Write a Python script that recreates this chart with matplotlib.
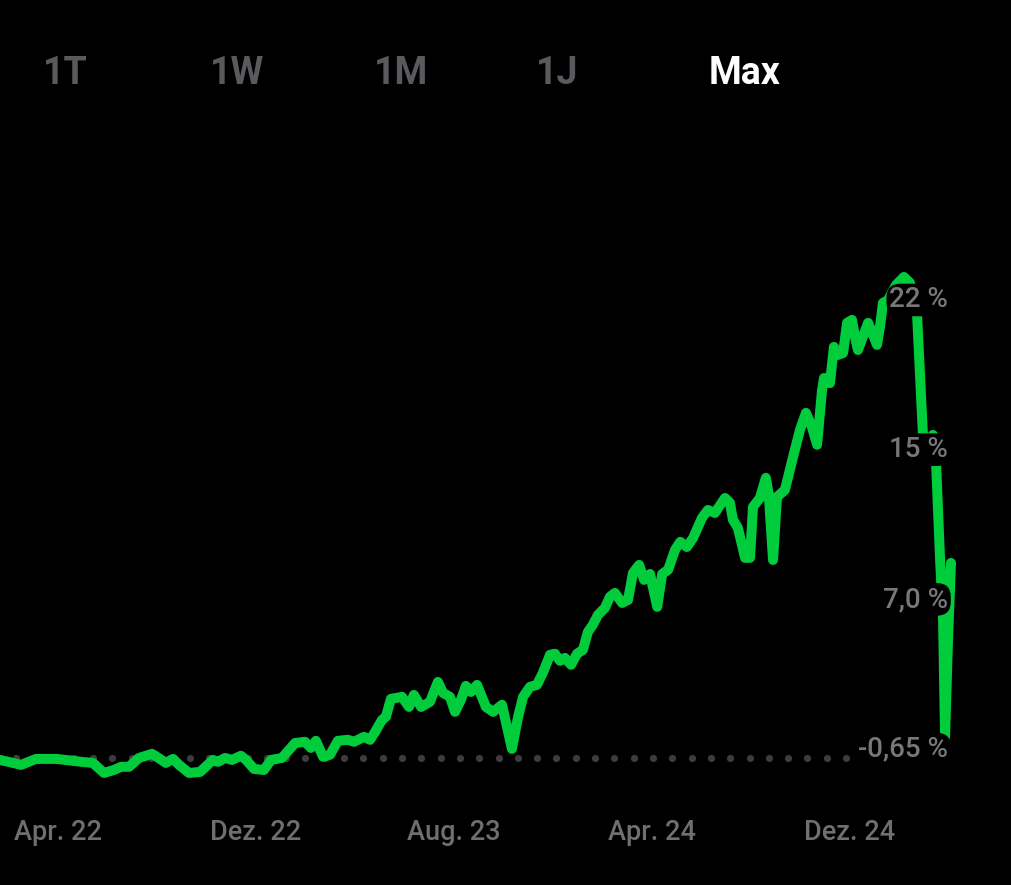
import matplotlib
matplotlib.use("Agg")
import numpy as np
import matplotlib.pyplot as plt
from matplotlib.transforms import blended_transform_factory

# x = months since Jan 2022, y = performance in %
months = [0.66, 1.51, 2.11, 2.96, 3.97, 4.41, 4.86, 5.26, 5.55, 5.87,
          6.27, 6.80, 7.00, 7.36, 7.65, 7.89, 8.29, 8.74, 9.26, 9.46,
          9.75, 10.03, 10.39, 10.60, 10.92, 11.32, 11.61, 12.05, 12.58, 12.98,
          13.22, 13.42, 13.71, 13.99, 14.31, 14.72, 14.96, 15.36, 15.61, 15.81,
          16.09, 16.25, 16.45, 16.90, 17.18, 17.38, 17.67, 18.03, 18.35, 18.56,
          18.84, 19.04, 19.28, 19.48, 19.69, 19.93, 20.29, 20.58, 20.94, 21.14,
          21.34, 21.59, 21.79, 22.07, 22.35, 22.59, 22.88, 23.08, 23.28, 23.48,
          23.73, 23.97, 24.21, 24.41, 24.61, 24.82, 25.10, 25.30, 25.50, 25.79,
          26.03, 26.23, 26.48, 26.68, 26.92, 27.21, 27.41, 27.65, 27.93, 28.14,
          28.41, 28.66, 29.02, 29.26, 29.54, 29.95, 30.15, 30.27, 30.47, 30.76,
          30.96, 31.08, 31.36, 31.60, 31.72, 31.89, 32.05, 32.37, 32.70, 32.98,
          33.22, 33.46, 33.67, 33.87, 33.95, 34.19, 34.35, 34.51, 34.72, 34.88,
          35.08, 35.20, 35.32, 35.52, 35.73, 35.93, 36.09, 36.21, 36.33, 36.54,
          36.86, 37.18, 37.42, 37.71, 37.95, 38.15, 38.35, 38.48, 38.64, 38.76,
          38.84, 38.96, 39.08]
perf = [-1.20, -1.45, -1.15, -1.15, -1.30, -1.35, -1.86, -1.71, -1.55, -1.55,
        -1.10, -0.89, -1.05, -1.35, -1.15, -1.45, -1.86, -1.81, -1.20, -1.30,
        -1.10, -1.20, -0.99, -1.20, -1.66, -1.71, -1.20, -1.10, -0.34, -0.28,
        -0.59, -0.23, -1.04, -0.94, -0.23, -0.18, -0.28, -0.03, -0.18, 0.22,
        0.83, 0.99, 1.90, 2.00, 1.49, 2.10, 1.49, 1.75, 2.76, 2.20,
        2.00, 1.24, 1.85, 2.56, 2.25, 2.61, 1.49, 1.24, 1.60, 0.48,
        -0.64, 0.99, 2.00, 2.51, 2.61, 3.22, 4.14, 4.19, 3.83, 3.98,
        3.63, 4.19, 4.39, 5.30, 5.66, 6.17, 6.52, 7.08, 7.28, 6.77,
        6.92, 8.29, 8.70, 7.94, 8.24, 6.57, 8.24, 8.45, 9.46, 9.87,
        9.61, 10.07, 11.09, 11.49, 11.34, 12.10, 11.85, 10.99, 10.58, 9.06,
        9.06, 11.64, 12.10, 13.12, 12.25, 8.95, 12.15, 12.51, 14.19, 15.56,
        16.42, 15.71, 14.80, 17.58, 18.19, 17.93, 19.77, 19.36, 19.46, 20.99,
        21.14, 20.28, 19.61, 20.28, 20.99, 20.38, 19.87, 20.78, 22.00, 22.15,
        22.91, 23.32, 23.02, 21.40, 15.21, 14.95, 15.30, 13.78, 8.95, 5.91,
        -0.03, 4.90, 8.80]

baseline = -1.1
tick_months = [3, 11, 19, 27, 35]
tick_labels = ["Apr. 22", "Dez. 22", "Aug. 23", "Apr. 24", "Dez. 24"]
level_values = [22.15, 14.55, 6.95, -0.65]
level_labels = ["22 %", "15 %", "7,0 %", "-0,65 %"]
tabs = ["1T", "1W", "1M", "1J", "Max"]

green = "#00CC3C"
gray = "#6E6E73"

plt.rcParams["font.family"] = ["Roboto", "DejaVu Sans"]

fig = plt.figure(figsize=(10.12, 8.85), dpi=100, facecolor="black")
ax = fig.add_axes([0, 0, 1, 1])
ax.set_facecolor("black")
ax.set_xlim(0.657, 41.545)
ax.set_ylim(-7.55, 37.38)
ax.axis("off")

# dotted reference line (one dot every ~0.78 month)
dot_x = np.arange(1.30, 35.6, 0.78)
ax.plot(dot_x, np.full(len(dot_x), baseline), linestyle="none", marker="o",
        markersize=5.2, markeredgewidth=0, color="#3C3C3F", zorder=1)

ax.plot(months, perf, color=green, lw=7.2, solid_joinstyle="round",
        solid_capstyle="round", zorder=2)

# value labels on the right
for v, lab in zip(level_values, level_labels):
    ax.text(38.96, v, lab, ha="right", va="center", fontsize=20,
            color="#77777C", fontweight="medium", zorder=3,
            bbox=dict(boxstyle="round,pad=0.1,rounding_size=0.5",
                      facecolor="black", edgecolor="none"))

# month labels
trans = blended_transform_factory(ax.transData, ax.transAxes)
for m, lab in zip(tick_months, tick_labels):
    ax.text(m, 1 - 833 / 885, lab, transform=trans, ha="center", va="center",
            fontsize=19.5, color=gray, fontweight="medium")

# range tabs
tab_x = [65, 237, 401, 557, 745]
for tx, lab in zip(tab_x, tabs):
    ax.text(tx / 1012, 1 - 73 / 885, lab, transform=ax.transAxes,
            ha="center", va="center", fontsize=27, fontweight="bold",
            color="white" if lab == "Max" else "#5A5A5E")

fig.savefig("out.png", dpi=100, facecolor="black")
